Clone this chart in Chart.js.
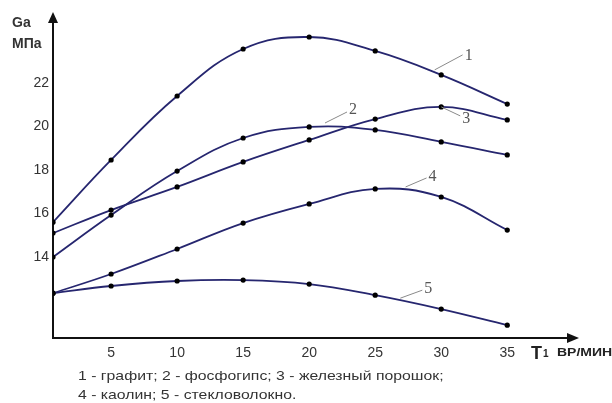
<!DOCTYPE html>
<html>
<head>
<meta charset="utf-8">
<script src="https://cdn.jsdelivr.net/npm/chart.js@4.4.1/dist/chart.umd.min.js"></script>
<style>
body{margin:0;background:#fff;}
#wrap{position:relative;width:612px;height:403px;overflow:hidden;font-family:"Liberation Sans",Arial,sans-serif;color:#333;}
#wrap canvas{position:absolute;left:0;top:0;}
.txt{position:absolute;white-space:nowrap;line-height:1;}
.b{font-weight:bold;}
.wide{transform-origin:left center;}
</style>
</head>
<body>
<div id="wrap">
<canvas id="ch" width="612" height="403"></canvas>
<div class="txt b" style="left:12px;top:15px;font-size:14px;">Ga</div>
<div class="txt b" style="left:12px;top:36px;font-size:14px;">МПа</div>
<div class="txt b" style="left:531px;top:344px;font-size:18px;color:#222;">T</div>
<div class="txt b" style="left:543px;top:349px;font-size:10px;color:#222;">1</div>
<div class="txt b wide" style="left:557px;top:348px;font-size:10px;color:#222;transform:scaleX(1.4);">ВР/МИН</div>
<div class="txt wide" style="left:78px;top:369px;font-size:13.5px;transform:scaleX(1.17);">1 - графит; 2 - фосфогипс; 3 - железный порошок;</div>
<div class="txt wide" style="left:78px;top:388px;font-size:13.5px;transform:scaleX(1.17);">4 - каолин; 5 - стекловолокно.</div>
</div>
<script>
// T values (first point sits on the vertical axis)
var T=[0.6,5,10,15,20,25,30,35];
var grafit=[15.6,18.46,21.4,23.56,24.11,23.47,22.37,21.03];
var fosfogips=[14.0,15.93,17.95,19.47,19.98,19.84,19.29,18.69];
var zhelezo=[15.1,16.16,17.22,18.37,19.38,20.34,20.9,20.3];
var kaolin=[12.34,13.22,14.37,15.56,16.44,17.13,16.76,15.24];
var steklo=[12.34,12.67,12.9,12.94,12.76,12.25,11.61,10.87];
var xTicks=[5,10,15,20,25,30,35];
var yTicks=[14,16,18,20,22];
var curveNames=['1','2','3','4','5'];

var LINE='#26266f';

function pts(ys){
    return ys.map(function(v,i){return {x:T[i],y:v};});
}
function ds(ys){
    return {data:pts(ys),borderColor:LINE,borderWidth:1.8,tension:0.4,fill:false,
        pointRadius:2.6,pointBackgroundColor:'#000',pointBorderWidth:0,pointHoverRadius:2.6};
}

// leader lines with curve numbers: anchor on curve (data units) + offset to label (px)
var curveLabels=[
    {x:29.5,y:22.6,dx:28,dy:-15,ty:1},
    {x:21.2,y:20.16,dx:22,dy:-11,ty:-2},
    {x:30,y:20.9,dx:19,dy:9,ty:3},
    {x:27.3,y:17.22,dx:21,dy:-9,ty:-1},
    {x:26.9,y:12.11,dx:22,dy:-8,ty:-1}
];

var decor={
    id:'decor',
    afterDraw:function(c){
        var ctx=c.ctx, a=c.chartArea, xs=c.scales.x, ys=c.scales.y;
        ctx.save();
        ctx.fillStyle='#111';
        // y arrow
        ctx.beginPath();
        ctx.moveTo(a.left,a.top-10);ctx.lineTo(a.left-5,a.top+1);ctx.lineTo(a.left+5,a.top+1);
        ctx.closePath();ctx.fill();
        // x arrow
        ctx.beginPath();
        ctx.moveTo(a.right+11,a.bottom);ctx.lineTo(a.right-1,a.bottom-5);ctx.lineTo(a.right-1,a.bottom+5);
        ctx.closePath();ctx.fill();
        // curve numbers
        ctx.strokeStyle='#8a8a8a';ctx.lineWidth=1;
        ctx.fillStyle='#555';
        ctx.font='16px "Liberation Serif", "DejaVu Serif", serif';
        ctx.textBaseline='middle';ctx.textAlign='left';
        curveLabels.forEach(function(l,i){
            var px=xs.getPixelForValue(l.x), py=ys.getPixelForValue(l.y);
            ctx.beginPath();ctx.moveTo(px,py);ctx.lineTo(px+l.dx,py+l.dy);ctx.stroke();
            ctx.fillText(curveNames[i],px+l.dx+2,py+l.dy+l.ty);
        });
        ctx.restore();
    }
};

new Chart(document.getElementById('ch'),{
    type:'line',
    data:{datasets:[ds(grafit),ds(fosfogips),ds(zhelezo),ds(kaolin),ds(steklo)]},
    options:{
        responsive:false,animation:false,devicePixelRatio:1,
        layout:{padding:{top:22,right:44,left:0,bottom:0}},
        plugins:{legend:{display:false},tooltip:{enabled:false}},
        scales:{
            x:{type:'linear',min:0.6,max:39.6,
                grid:{display:false,drawTicks:false},
                border:{display:true,color:'#111',width:2},
                afterBuildTicks:function(s){s.ticks=xTicks.map(function(v){return {value:v};});},
                afterFit:function(s){s.height=65;},
                ticks:{color:'#333',padding:7,font:{family:'"Liberation Sans", Arial, sans-serif',size:14},maxRotation:0}
            },
            y:{type:'linear',min:10.28,max:24.8,
                grid:{display:false,drawTicks:false},
                border:{display:true,color:'#111',width:2},
                afterBuildTicks:function(s){s.ticks=yTicks.map(function(v){return {value:v};});},
                afterFit:function(s){s.width=53;},
                ticks:{color:'#333',padding:4,font:{family:'"Liberation Sans", Arial, sans-serif',size:14}}
            }
        }
    },
    plugins:[decor]
});
</script>
</body>
</html>
